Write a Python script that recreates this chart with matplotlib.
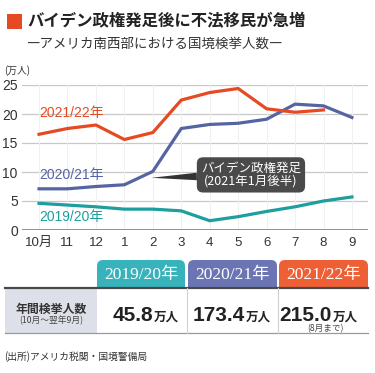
import matplotlib
matplotlib.use("Agg")
import matplotlib.pyplot as plt
from matplotlib.patches import FancyBboxPatch, Rectangle

# ---------------- data ----------------
months = ["10月", "11", "12", "1", "2", "3", "4", "5", "6", "7", "8", "9"]
s1920 = [4.6, 4.3, 4.0, 3.6, 3.6, 3.3, 1.6, 2.3, 3.2, 4.0, 5.0, 5.7]
s2021 = [7.1, 7.1, 7.5, 7.8, 10.1, 17.5, 18.2, 18.4, 19.1, 21.7, 21.4, 19.4]
s2122 = [16.5, 17.5, 18.1, 15.6, 16.8, 22.4, 23.7, 24.4, 20.9, 20.3, 20.7]
series_names = ["2019/20年", "2020/21年", "2021/22年"]
totals = ["45.8", "173.4", "215.0"]
yticks = [0, 5, 10, 15, 20, 25]

C_TEAL = "#1e9e9e"
C_BLUE = "#5564a3"
C_RED = "#e64a22"
H_TEAL = "#39b3bb"
H_BLUE = "#6b75b3"
H_RED = "#ee5f36"

JP = ["Noto Sans CJK JP", "DejaVu Sans"]
NUM = ["Liberation Sans", "Noto Sans CJK JP"]
SERIF = ["Liberation Serif", "Noto Sans CJK JP"]

W, H = 375, 373
fig = plt.figure(figsize=(W / 100, H / 100), dpi=100)

# overlay axes in pixel coordinates
ov = fig.add_axes([0, 0, 1, 1])
ov.set_xlim(0, W)
ov.set_ylim(H, 0)
ov.axis("off")

# title
ov.add_patch(Rectangle((7, 13.5), 15, 15, color=C_RED, lw=0))
ov.text(27, 21, "バイデン政権発足後に不法移民が急増", family=JP, fontsize=11.8,
        fontweight="bold", va="center", ha="left", color="#222222")
ov.text(26, 43.5, "―アメリカ南西部における国境検挙人数―", family=JP, fontsize=9.7,
        va="center", ha="left", color="#333333")
ov.text(4, 71, "(万人)", family=JP, fontsize=7, va="center", ha="left", color="#333333")

# ---------------- chart ----------------
x0, x1 = 22, 368
ybot, ytop = 230, 85
idx = list(range(len(months)))
xstep = 28.45
xl = (x0 - 39) / xstep
xr = xl + (x1 - x0) / xstep
ax = fig.add_axes([x0 / W, (H - ybot) / H, (x1 - x0) / W, (ybot - ytop) / H])
ax.patch.set_alpha(0)
ax.set_xlim(xl, xr)
ax.set_ylim(0, 25)
for s in ax.spines.values():
    s.set_visible(False)
ax.set_yticks(yticks)
ax.set_xticks(idx)
ax.set_xticklabels(months, family=NUM, fontsize=9.5, color="#333333")
ax.set_yticklabels([str(v) for v in yticks], family=NUM, fontsize=10, color="#333333")
ax.tick_params(length=0, pad=3)
ax.tick_params(axis="x", pad=5)
for v in yticks[1:]:
    ax.axhline(v, color="#c8c8c8", lw=0.9, zorder=0)
for i in idx:
    ax.axvline(i, color="#f0f0f0", lw=0.7, zorder=0)
ax.axhline(0, color="#8a8a8a", lw=1.3, zorder=1)

ax.plot(idx, s1920, color=C_TEAL, lw=2.3, solid_joinstyle="round", zorder=3)
ax.plot(idx, s2021, color=C_BLUE, lw=2.3, solid_joinstyle="round", zorder=3)
ax.plot(idx[:len(s2122)], s2122, color=C_RED, lw=2.3, solid_joinstyle="round", zorder=3)

ax.text(0, 20.2, series_names[2], color=C_RED, family=NUM, fontsize=10, va="center", ha="left")
ax.text(0, 9.5, series_names[1], color=C_BLUE, family=NUM, fontsize=10, va="center", ha="left")
ax.text(0, 2.2, series_names[0], color=C_TEAL, family=NUM, fontsize=10, va="center", ha="left")

ax.annotate("バイデン政権発足\n(2021年1月後半)", xy=(3.95, 9.0), xytext=(7.45, 9.5),
            family=JP, fontsize=9, color="white", ha="center", va="center",
            linespacing=1.1, zorder=5,
            bbox=dict(boxstyle="round,pad=0.33,rounding_size=0.5", fc="#4a4a4a", ec="none"),
            arrowprops=dict(arrowstyle="wedge,tail_width=0.6,shrink_factor=0.5",
                            fc="#333333", ec="none", shrinkA=0, shrinkB=0))

# ---------------- table ----------------
tabs = [(97, 185, H_TEAL), (188, 277, H_BLUE), (279, 368, H_RED)]
for (a, b, c), name in zip(tabs, series_names):
    ov.add_patch(FancyBboxPatch((a, 260), b - a, 40,
                                boxstyle="round,pad=0,rounding_size=6",
                                fc=c, ec="none", zorder=1))
    ov.text((a + b) / 2, 274.5, name, family=SERIF, fontsize=12.5,
            color="white", ha="center", va="center", zorder=3)
ov.add_patch(Rectangle((5, 288), 363, 45, fc="white", ec="none", zorder=2))
ov.add_patch(Rectangle((5, 288), 92, 45, fc="#dde0e8", ec="none", zorder=2))
ov.plot([5, 368], [288, 288], color="#4a4a4a", lw=1.6, zorder=4)
ov.plot([5, 368], [333, 333], color="#9a9a9a", lw=0.9, zorder=4)
for xv in [186.5, 278]:
    ov.plot([xv, xv], [288, 333], color="#d0d0d0", lw=0.8, zorder=4)

ov.text(51, 309.5, "年間検挙人数", family=JP, fontsize=8.6, fontweight="bold",
        color="#333333", ha="center", va="center", zorder=5)
ov.text(51, 320.5, "(10月～翌年9月)", family=JP, fontsize=6.3,
        color="#444444", ha="center", va="center", zorder=5)

splits = [153, 245, 332]
for sx, val in zip(splits, totals):
    ov.text(sx, 321, val, family=["Liberation Sans"], fontsize=15, fontweight="bold",
            color="#222222", ha="right", va="baseline", zorder=5)
    ov.text(sx + 0.5, 321, "万人", family=JP, fontsize=9, fontweight="bold",
            color="#222222", ha="left", va="baseline", zorder=5)
ov.text(325, 328.5, "(8月まで)", family=JP, fontsize=6.2, color="#444444",
        ha="center", va="center", zorder=5)

ov.text(4, 357, "(出所)アメリカ税関・国境警備局", family=JP, fontsize=7,
        color="#333333", ha="left", va="center")

fig.savefig("out.png", dpi=100, facecolor="white")
